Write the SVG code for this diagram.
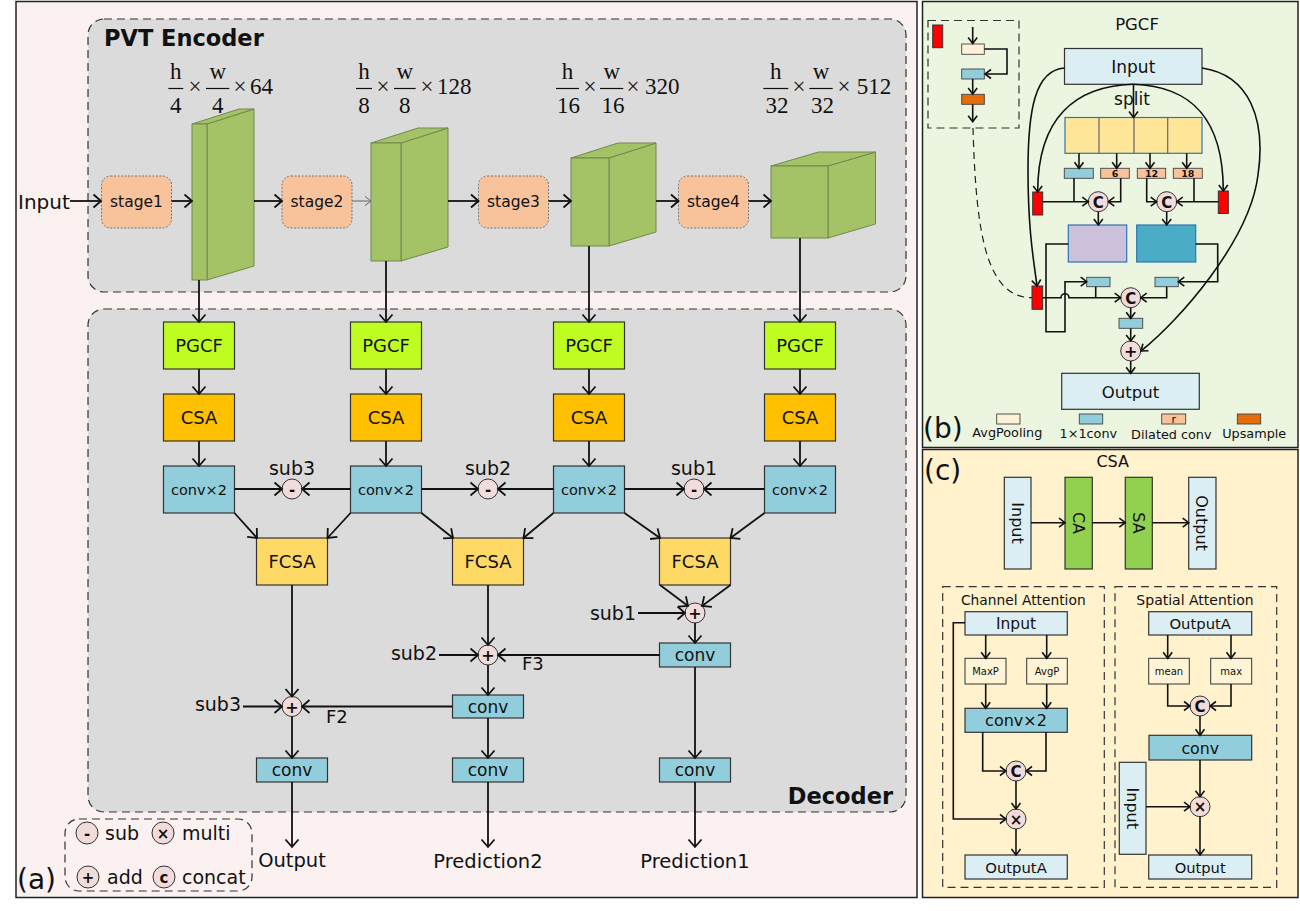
<svg xmlns="http://www.w3.org/2000/svg" width="1300" height="911" viewBox="0 0 1300 911">
<defs>
<marker id="ah" markerUnits="userSpaceOnUse" markerWidth="12" markerHeight="16" refX="9" refY="7" orient="auto" overflow="visible"><path d="M1.5,0.5 L9,7 L1.5,13.5" fill="none" stroke="#111" stroke-width="1.8"/></marker>
<marker id="ahs" markerUnits="userSpaceOnUse" markerWidth="10" markerHeight="12" refX="7" refY="5.5" orient="auto" overflow="visible"><path d="M1,1 L7,5.5 L1,10" fill="none" stroke="#111" stroke-width="1.6"/></marker>
<marker id="ahg" markerUnits="userSpaceOnUse" markerWidth="10" markerHeight="12" refX="7" refY="5.5" orient="auto" overflow="visible"><path d="M1,1 L7,5.5 L1,10" fill="none" stroke="#666" stroke-width="1"/></marker>
<style>
text{font-family:"DejaVu Sans","Liberation Sans",sans-serif;fill:#111}
.m{text-anchor:middle}
.e{text-anchor:end}
.b{font-weight:bold}
.mth{font-family:"Liberation Serif","DejaVu Serif",serif;font-size:23px}
.ln{fill:none;stroke:#111;stroke-width:1.8}
.ls{fill:none;stroke:#111;stroke-width:1.6}
.a{marker-end:url(#ah)}
.as{marker-end:url(#ahs)}
.bar{stroke:#111;stroke-width:1.2}
.blk{fill:#a4c266;stroke:#71894c;stroke-width:1}
.stg{fill:#f8c39b;stroke:#777;stroke-width:1;stroke-dasharray:2,1.5}
.pg{fill:#bffd22;stroke:#333;stroke-width:1.2}
.csa{fill:#ffc000;stroke:#333;stroke-width:1.2}
.cv{fill:#92cddc;stroke:#333;stroke-width:1.2}
.fc{fill:#ffd966;stroke:#333;stroke-width:1.2}
.op{fill:#f2dcdb;stroke:#333;stroke-width:1}
.dash{fill:none;stroke:#333;stroke-width:1.2;stroke-dasharray:8,5}
.dbox{fill:#dbdbdb;stroke:#333;stroke-width:1.2;stroke-dasharray:8,5}
.lb{fill:#dbeef3;stroke:#333;stroke-width:1.2}
.sm{stroke:#444;stroke-width:0.9}
.red{fill:#ff0000;stroke:#333;stroke-width:1}
.ap{fill:#fdf2d8}
.c1{fill:#92cddc}
.dil{fill:#f8c39b}
.up{fill:#e46c0a}
.gr{fill:#92d050;stroke:#333;stroke-width:1.2}
.pl{fill:#fff5d6;stroke:#333;stroke-width:1}
</style>
</defs>
<rect width="1300" height="911" fill="#ffffff"/>

<!-- Panel (a) -->
<g id="panel-a">
<rect x="16" y="1.5" width="901" height="896" fill="#fbf1f1" stroke="#222" stroke-width="1.5"/>
<rect class="dbox" x="88" y="19" width="818" height="273" rx="16"/>
<rect class="dbox" x="88" y="309" width="818" height="503" rx="16"/>
<text x="104" y="46" class="b" font-size="22.5">PVT Encoder</text>
<text x="893" y="804" class="b e" font-size="22.5">Decoder</text>
<text x="17" y="889" font-size="28">(a)</text>
<text x="18" y="209" font-size="20">Input</text>
</g>

<g id="stage1"><rect class="stg" x="101.5" y="176" width="70" height="52" rx="9"/><text x="136.5" y="206.5" class="m" font-size="15.5">stage1</text></g>
<g id="stage2"><rect class="stg" x="282" y="176" width="70" height="52" rx="9"/><text x="317" y="206.5" class="m" font-size="15.5">stage2</text></g>
<g id="stage3"><rect class="stg" x="478.5" y="176" width="70" height="52" rx="9"/><text x="513.5" y="206.5" class="m" font-size="15.5">stage3</text></g>
<g id="stage4"><rect class="stg" x="678.5" y="176" width="70" height="52" rx="9"/><text x="713.5" y="206.5" class="m" font-size="15.5">stage4</text></g>

<g id="feat1">
<polygon class="blk" points="207,124 254,109 254,266 207,280"/>
<polygon class="blk" points="192,124 239,109 254,109 207,124"/>
<rect class="blk" x="192" y="124" width="15" height="156"/>
</g>
<g id="feat2">
<polygon class="blk" points="401,143 448,128 448,247 401,261"/>
<polygon class="blk" points="371,143 418,128 448,128 401,143"/>
<rect class="blk" x="371" y="143" width="30" height="118"/>
</g>
<g id="feat3">
<polygon class="blk" points="609,158 656,143 656,232 609,246"/>
<polygon class="blk" points="571,158 618,143 656,143 609,158"/>
<rect class="blk" x="571" y="158" width="38" height="88"/>
</g>
<g id="feat4">
<polygon class="blk" points="828,166 875.5,152 875.5,224 828,238"/>
<polygon class="blk" points="771,166 818.5,152 875.5,152 828,166"/>
<rect class="blk" x="771" y="166" width="57" height="72"/>
</g>

<g id="dims">
<g id="dim1">
<text x="175.8" y="79" class="mth m">h</text><line class="bar" x1="168.3" y1="88.5" x2="183.3" y2="88.5"/><text x="175.8" y="112.5" class="mth m">4</text>
<text x="195" y="94" class="mth m">×</text>
<text x="217.7" y="79" class="mth m">w</text><line class="bar" x1="206" y1="88.5" x2="229.3" y2="88.5"/><text x="217.7" y="112.5" class="mth m">4</text>
<text x="240" y="94" class="mth m">×</text><text x="250" y="94" class="mth">64</text>
</g>
<g id="dim2">
<text x="364" y="79" class="mth m">h</text><line class="bar" x1="356" y1="88.5" x2="372" y2="88.5"/><text x="364" y="112.5" class="mth m">8</text>
<text x="383" y="94" class="mth m">×</text>
<text x="404.8" y="79" class="mth m">w</text><line class="bar" x1="394" y1="88.5" x2="415.7" y2="88.5"/><text x="404.8" y="112.5" class="mth m">8</text>
<text x="427" y="94" class="mth m">×</text><text x="437" y="94" class="mth">128</text>
</g>
<g id="dim3">
<text x="567.5" y="79" class="mth m">h</text><line class="bar" x1="556" y1="88.5" x2="579" y2="88.5"/><text x="568.5" y="112.5" class="mth m">16</text>
<text x="590" y="94" class="mth m">×</text>
<text x="611.7" y="79" class="mth m">w</text><line class="bar" x1="600" y1="88.5" x2="623.3" y2="88.5"/><text x="613" y="112.5" class="mth m">16</text>
<text x="633" y="94" class="mth m">×</text><text x="645" y="94" class="mth">320</text>
</g>
<g id="dim4">
<text x="775.8" y="79" class="mth m">h</text><line class="bar" x1="763.3" y1="88.5" x2="788.3" y2="88.5"/><text x="777" y="112.5" class="mth m">32</text>
<text x="799" y="94" class="mth m">×</text>
<text x="821" y="79" class="mth m">w</text><line class="bar" x1="809.3" y1="88.5" x2="832.7" y2="88.5"/><text x="822.5" y="112.5" class="mth m">32</text>
<text x="844" y="94" class="mth m">×</text><text x="856.7" y="94" class="mth">512</text>
</g>
</g>

<!-- Decoder nodes -->
<g id="pgcf1"><rect class="pg" x="163.5" y="322" width="71" height="47"/><text x="199" y="352" class="m" font-size="18">PGCF</text></g>
<g id="pgcf2"><rect class="pg" x="350.5" y="322" width="71" height="47"/><text x="386" y="352" class="m" font-size="18">PGCF</text></g>
<g id="pgcf3"><rect class="pg" x="553.5" y="322" width="71" height="47"/><text x="589" y="352" class="m" font-size="18">PGCF</text></g>
<g id="pgcf4"><rect class="pg" x="764.5" y="322" width="71" height="47"/><text x="800" y="352" class="m" font-size="18">PGCF</text></g>

<g id="csa1"><rect class="csa" x="163.5" y="394" width="71" height="47"/><text x="199" y="424" class="m" font-size="18">CSA</text></g>
<g id="csa2"><rect class="csa" x="350.5" y="394" width="71" height="47"/><text x="386" y="424" class="m" font-size="18">CSA</text></g>
<g id="csa3"><rect class="csa" x="553.5" y="394" width="71" height="47"/><text x="589" y="424" class="m" font-size="18">CSA</text></g>
<g id="csa4"><rect class="csa" x="764.5" y="394" width="71" height="47"/><text x="800" y="424" class="m" font-size="18">CSA</text></g>

<g id="convx2-1"><rect class="cv" x="163.5" y="466" width="71" height="47"/><text x="199" y="495" class="m" font-size="14.5">conv×2</text></g>
<g id="convx2-2"><rect class="cv" x="350.5" y="466" width="71" height="47"/><text x="386" y="495" class="m" font-size="14.5">conv×2</text></g>
<g id="convx2-3"><rect class="cv" x="553.5" y="466" width="71" height="47"/><text x="589" y="495" class="m" font-size="14.5">conv×2</text></g>
<g id="convx2-4"><rect class="cv" x="764.5" y="466" width="71" height="47"/><text x="800" y="495" class="m" font-size="14.5">conv×2</text></g>

<g id="sub3"><text x="292" y="475" class="m" font-size="19">sub3</text><circle class="op" cx="292" cy="489" r="10"/><text x="292" y="494.5" class="m b" font-size="15">-</text></g>
<g id="sub2"><text x="488" y="475" class="m" font-size="19">sub2</text><circle class="op" cx="488" cy="489" r="10"/><text x="488" y="494.5" class="m b" font-size="15">-</text></g>
<g id="sub1"><text x="694" y="475" class="m" font-size="19">sub1</text><circle class="op" cx="694" cy="489" r="10"/><text x="694" y="494.5" class="m b" font-size="15">-</text></g>

<g id="fcsa1"><rect class="fc" x="256.5" y="538" width="71" height="47"/><text x="292" y="568" class="m" font-size="18">FCSA</text></g>
<g id="fcsa2"><rect class="fc" x="452.5" y="538" width="71" height="47"/><text x="488" y="568" class="m" font-size="18">FCSA</text></g>
<g id="fcsa3"><rect class="fc" x="659.5" y="538" width="71" height="47"/><text x="695" y="568" class="m" font-size="18">FCSA</text></g>

<g id="add1"><circle class="op" cx="695" cy="613" r="10"/><text x="695" y="619" class="m b" font-size="16">+</text><text x="636" y="620" class="e" font-size="19">sub1</text></g>
<g id="add2"><circle class="op" cx="488" cy="655" r="10"/><text x="488" y="661" class="m b" font-size="16">+</text><text x="437" y="660" class="e" font-size="19">sub2</text></g>
<g id="add3"><circle class="op" cx="292" cy="706.5" r="10"/><text x="292" y="712.5" class="m b" font-size="16">+</text><text x="241" y="711" class="e" font-size="19">sub3</text></g>

<g id="conv-f3"><rect class="cv" x="659.5" y="643" width="71" height="24"/><text x="695" y="661" class="m" font-size="17">conv</text></g>
<g id="conv-f2"><rect class="cv" x="452.5" y="695" width="71" height="23"/><text x="488" y="712.5" class="m" font-size="17">conv</text></g>
<g id="conv-o1"><rect class="cv" x="256.5" y="758" width="71" height="24"/><text x="292" y="776" class="m" font-size="17">conv</text></g>
<g id="conv-o2"><rect class="cv" x="452.5" y="758" width="71" height="24"/><text x="488" y="776" class="m" font-size="17">conv</text></g>
<g id="conv-o3"><rect class="cv" x="659.5" y="758" width="71" height="24"/><text x="695" y="776" class="m" font-size="17">conv</text></g>

<g id="labels-a">
<text x="522" y="670" font-size="18">F3</text>
<text x="326" y="722.5" font-size="18">F2</text>
<text x="292" y="867" class="m" font-size="19.5">Output</text>
<text x="488" y="868" class="m" font-size="19.5">Prediction2</text>
<text x="695" y="868" class="m" font-size="19.5">Prediction1</text>
</g>

<g id="legend-a">
<rect class="dash" x="65" y="819" width="187" height="72" rx="14"/>
<circle class="op" cx="87" cy="833" r="11"/><text x="87" y="838.5" class="m b" font-size="15">-</text><text x="105" y="840" font-size="19">sub</text>
<circle class="op" cx="163" cy="833" r="11"/><text x="163" y="838.5" class="m b" font-size="15">×</text><text x="182" y="840" font-size="19">multi</text>
<circle class="op" cx="88" cy="877" r="11"/><text x="88" y="882.5" class="m b" font-size="15">+</text><text x="107" y="884" font-size="19">add</text>
<circle class="op" cx="164" cy="877" r="11"/><text x="164" y="882.5" class="m b" font-size="15">c</text><text x="182" y="884" font-size="19">concat</text>
</g>

<!-- Panel (b) PGCF -->
<g id="panel-b">
<rect x="922.5" y="1.5" width="375.5" height="446" fill="#ebf5df" stroke="#222" stroke-width="1.5"/>
<text x="1137" y="30" class="m" font-size="16.5">PGCF</text>
<text x="923" y="438" font-size="28">(b)</text>
</g>
<g id="pgcf-inset">
<rect class="dash" x="928" y="20.5" width="91" height="107.5"/>
<rect class="red" x="932.7" y="25" width="10" height="22.7"/>
<rect class="ap sm" x="961.7" y="44" width="22.6" height="10.3"/>
<rect class="c1 sm" x="961.7" y="69" width="22.6" height="10"/>
<rect class="up sm" x="961.7" y="94.3" width="22.6" height="10"/>
</g>
<g id="pgcf-input"><rect class="lb" x="1064.5" y="48.5" width="137.5" height="35.8"/><text x="1133.3" y="72.5" class="m" font-size="17">Input</text></g>
<g id="pgcf-split">
<text x="1132" y="105" class="m" font-size="17">split</text>
<rect x="1065" y="117.5" width="137" height="35.8" fill="#ffe699" stroke="#2e75b6" stroke-width="1.2"/>
<line x1="1099" y1="117.5" x2="1099" y2="153.3" stroke="#666" stroke-width="1.2"/>
<line x1="1134" y1="117.5" x2="1134" y2="153.3" stroke="#666" stroke-width="1.2"/>
<line x1="1167.7" y1="117.5" x2="1167.7" y2="153.3" stroke="#666" stroke-width="1.2"/>
</g>
<g id="pgcf-branches">
<rect class="c1 sm" x="1064.3" y="168.3" width="29" height="10"/>
<rect class="dil sm" x="1100.7" y="168.3" width="28.6" height="10"/><text x="1115" y="177" class="m b" font-size="9.5">6</text>
<rect class="dil sm" x="1137.3" y="168.3" width="28.4" height="10"/><text x="1151.5" y="177" class="m b" font-size="9.5">12</text>
<rect class="dil sm" x="1173.3" y="168.3" width="29" height="10"/><text x="1187.8" y="177" class="m b" font-size="9.5">18</text>
<rect class="red" x="1032.7" y="192" width="10" height="23"/>
<rect class="red" x="1218.3" y="191" width="10" height="22.5"/>
</g>
<g id="pgcf-cat1"><circle class="op" cx="1098.3" cy="201.7" r="10"/><text x="1098.3" y="207.5" class="m b" font-size="15">C</text></g>
<g id="pgcf-cat2"><circle class="op" cx="1166.7" cy="201.7" r="10"/><text x="1166.7" y="207.5" class="m b" font-size="15">C</text></g>
<g id="pgcf-purple"><rect x="1068.3" y="225" width="58.4" height="37" fill="#ccc0da" stroke="#2e75b6" stroke-width="1.2"/></g>
<g id="pgcf-teal"><rect x="1136.7" y="225" width="59" height="37" fill="#4bacc6" stroke="#2e75b6" stroke-width="1.2"/></g>
<g id="pgcf-gp"><rect class="red" x="1032" y="286" width="10.7" height="23.3"/></g>
<g id="pgcf-conv-a"><rect class="c1 sm" x="1086.7" y="277.3" width="23.3" height="9.4"/></g>
<g id="pgcf-conv-b"><rect class="c1 sm" x="1155" y="277.3" width="23.3" height="9.4"/></g>
<g id="pgcf-cat3"><circle class="op" cx="1130.7" cy="297.7" r="10"/><text x="1130.7" y="303.5" class="m b" font-size="15">C</text></g>
<g id="pgcf-conv-c"><rect class="c1 sm" x="1119" y="318.3" width="23.7" height="10"/></g>
<g id="pgcf-add"><circle class="op" cx="1130.7" cy="351" r="10"/><text x="1130.7" y="357" class="m b" font-size="16">+</text></g>
<g id="pgcf-output"><rect class="lb" x="1061.7" y="373.3" width="137.6" height="36"/><text x="1130.5" y="397.5" class="m" font-size="16.5">Output</text></g>
<g id="pgcf-legend">
<rect class="ap sm" x="996.7" y="414" width="23.3" height="10"/><text x="1007.3" y="437" class="m" font-size="12.8">AvgPooling</text>
<rect class="c1 sm" x="1079.3" y="414" width="23.4" height="10"/><text x="1088.3" y="438" class="m" font-size="12.8">1×1conv</text>
<rect class="dil sm" x="1161.7" y="414" width="24" height="10"/><text x="1173.7" y="423" class="m" font-family="Liberation Mono, monospace" font-size="11">r</text><text x="1171.3" y="439" class="m" font-size="12.8">Dilated conv</text>
<rect class="up sm" x="1237.3" y="414" width="23.4" height="10"/><text x="1254.2" y="438" class="m" font-size="12.8">Upsample</text>
</g>

<!-- Panel (c) CSA -->
<g id="panel-c">
<rect x="922.5" y="449.5" width="375.5" height="448" fill="#fff2cc" stroke="#222" stroke-width="1.5"/>
<text x="1112.7" y="467" class="m" font-size="16">CSA</text>
<text x="924" y="480" font-size="28">(c)</text>
</g>
<g id="csa-input"><rect class="lb" x="1004.3" y="477.3" width="26.7" height="91.7"/><text transform="translate(1017.7,523) rotate(90)" x="0" y="5.8" class="m" font-size="16">Input</text></g>
<g id="csa-ca"><rect class="gr" x="1065" y="477.3" width="27.3" height="91.7"/><text transform="translate(1078.7,523) rotate(90)" x="0" y="5.8" class="m" font-size="16">CA</text></g>
<g id="csa-sa"><rect class="gr" x="1125.3" y="477.3" width="27" height="91.7"/><text transform="translate(1138.8,523) rotate(90)" x="0" y="5.8" class="m" font-size="16">SA</text></g>
<g id="csa-output"><rect class="lb" x="1188.7" y="477.3" width="27.3" height="91.7"/><text transform="translate(1202.3,523) rotate(90)" x="0" y="5.8" class="m" font-size="16">Output</text></g>

<g id="channel-attention">
<rect class="dash" x="942.7" y="586.7" width="161.6" height="300.6"/>
<text x="1023.3" y="605" class="m" font-size="13.8">Channel Attention</text>
</g>
<g id="ca-input"><rect class="lb" x="965" y="611.7" width="102.3" height="23.3"/><text x="1016" y="629" class="m" font-size="15.5">Input</text></g>
<g id="ca-maxp"><rect class="pl" x="965" y="658.3" width="41" height="25.7"/><text x="985.5" y="674.5" class="m" font-size="10">MaxP</text></g>
<g id="ca-avgp"><rect class="pl" x="1026.7" y="658.3" width="40.6" height="25.7"/><text x="1047" y="674.5" class="m" font-size="10">AvgP</text></g>
<g id="ca-conv"><rect class="cv" x="965" y="708.3" width="102.3" height="24"/><text x="1016" y="726.2" class="m" font-size="16">conv×2</text></g>
<g id="ca-cat"><circle class="op" cx="1016" cy="771" r="10"/><text x="1016" y="776.8" class="m b" font-size="15">C</text></g>
<g id="ca-mul"><circle class="op" cx="1016" cy="819" r="10"/><text x="1016" y="824.5" class="m b" font-size="15">×</text></g>
<g id="ca-output"><rect class="lb" x="965" y="855" width="102.3" height="24"/><text x="1016" y="872.5" class="m" font-size="14.8">OutputA</text></g>

<g id="spatial-attention">
<rect class="dash" x="1115" y="586.7" width="161.7" height="300.6"/>
<text x="1195" y="605" class="m" font-size="14">Spatial Attention</text>
</g>
<g id="sa-input"><rect class="lb" x="1148.7" y="611.7" width="103" height="23.3"/><text x="1200.2" y="628.5" class="m" font-size="14.8">OutputA</text></g>
<g id="sa-mean"><rect class="pl" x="1148.7" y="658.3" width="40.6" height="25.7"/><text x="1169" y="674.5" class="m" font-size="10">mean</text></g>
<g id="sa-max"><rect class="pl" x="1210.7" y="658.3" width="41" height="25.7"/><text x="1231.2" y="674.5" class="m" font-size="10">max</text></g>
<g id="sa-cat"><circle class="op" cx="1200" cy="706" r="10"/><text x="1200" y="711.8" class="m b" font-size="15">C</text></g>
<g id="sa-conv"><rect class="cv" x="1149" y="735.3" width="102.7" height="24.7"/><text x="1200.3" y="753.5" class="m" font-size="15.8">conv</text></g>
<g id="sa-x"><rect class="lb" x="1119.3" y="762.3" width="26.7" height="92"/><text transform="translate(1132.7,808.3) rotate(90)" x="0" y="5.8" class="m" font-size="16">Input</text></g>
<g id="sa-mul"><circle class="op" cx="1200" cy="806.7" r="10"/><text x="1200" y="812.2" class="m b" font-size="15">×</text></g>
<g id="sa-output"><rect class="lb" x="1148.7" y="855" width="103" height="24"/><text x="1200.2" y="872.5" class="m" font-size="14.7">Output</text></g>

<!-- Connectors -->
<g id="connectors">
<!-- encoder -->
<path class="ln a" d="M70,201 H101"/>
<path class="ln a" d="M171.5,201 H192"/>
<path class="ln a" d="M254,201 H282"/>
<path d="M352,201 H371" fill="none" stroke="#666" stroke-width="1" marker-end="url(#ahg)"/>
<path class="ln a" d="M448,201 H478.5"/>
<path class="ln a" d="M548.5,201 H571"/>
<path class="ln a" d="M656,201 H678.5"/>
<path class="ln a" d="M748.5,201 H771"/>
<path class="ln a" d="M199,280 V322"/>
<path class="ln a" d="M386,261 V322"/>
<path class="ln a" d="M589,246 V322"/>
<path class="ln a" d="M800,238 V322"/>
<!-- decoder columns -->
<path class="ln a" d="M199,369 V394"/>
<path class="ln a" d="M386,369 V394"/>
<path class="ln a" d="M589,369 V394"/>
<path class="ln a" d="M800,369 V394"/>
<path class="ln a" d="M199,441 V466"/>
<path class="ln a" d="M386,441 V466"/>
<path class="ln a" d="M589,441 V466"/>
<path class="ln a" d="M800,441 V466"/>
<!-- subtraction -->
<path class="ln a" d="M234.5,489 H282"/>
<path class="ln a" d="M350.5,489 H302"/>
<path class="ln a" d="M421.5,489 H478"/>
<path class="ln a" d="M553.5,489 H498"/>
<path class="ln a" d="M624.5,489 H684"/>
<path class="ln a" d="M764.5,489 H704"/>
<!-- diagonals -->
<path class="ln a" d="M234.5,513 L257,538"/>
<path class="ln a" d="M350.5,513 L327.5,538"/>
<path class="ln a" d="M421.5,513 L453,538"/>
<path class="ln a" d="M553.5,513 L523.5,538"/>
<path class="ln a" d="M624.5,513 L660,538"/>
<path class="ln a" d="M764.5,513 L730.5,538"/>
<!-- lower decoder -->
<path class="ln a" d="M292,585 V696.5"/>
<path class="ln a" d="M488,585 V645"/>
<path class="ln a" d="M660,585 L688,606"/>
<path class="ln a" d="M730.5,585 L702,606"/>
<path class="ln a" d="M638,613 H685"/>
<path class="ln a" d="M695,623 V643"/>
<path class="ln a" d="M659.5,655 H498"/>
<path class="ln a" d="M439,655 H478"/>
<path class="ln a" d="M488,665 V695"/>
<path class="ln a" d="M452.5,706.5 H302"/>
<path class="ln a" d="M243,706.5 H282"/>
<path class="ln a" d="M292,716.5 V758"/>
<path class="ln a" d="M488,718 V758"/>
<path class="ln a" d="M695,667 V758"/>
<path class="ln a" d="M292,782 V847"/>
<path class="ln a" d="M488,782 V847"/>
<path class="ln a" d="M695,782 V847"/>

<!-- PGCF inset -->
<path class="ls as" d="M972.7,27 V43.5"/>
<path class="ls as" d="M984.3,49 H1007 V74 H985"/>
<path class="ls as" d="M972.7,79 V94"/>
<path class="ls as" d="M972.7,104.3 V121.7"/>
<path d="M973,128 C976,230 985,297.7 1032,297.7" fill="none" stroke="#222" stroke-width="1.2" stroke-dasharray="7,5"/>
<!-- PGCF main -->
<path class="ls as" d="M1133.5,84.3 V117.5"/>
<path class="ls as" d="M1064.5,68 C1035,70 1028,110 1028,170 C1028,232 1034,262 1037,286"/>
<path class="ls as" d="M1133,84.3 C1075,86 1037.7,118 1037.7,192"/>
<path class="ls as" d="M1133,84.3 C1191,86 1223.3,118 1223.3,191"/>
<path class="ls as" d="M1202,68 C1250,75 1266,120 1258,175 C1250,240 1180,320 1141,351"/>
<path class="ls as" d="M1079,153.3 V168.3"/>
<path class="ls as" d="M1116.7,153.3 V168.3"/>
<path class="ls as" d="M1150,153.3 V168.3"/>
<path class="ls as" d="M1186.7,153.3 V168.3"/>
<path class="ls" d="M1074,178.3 V201.7"/>
<path class="ls as" d="M1042.7,201.7 H1088.3"/>
<path class="ls as" d="M1120.7,178.3 V201.7 H1108.3"/>
<path class="ls as" d="M1146.7,178.3 V201.7 H1156.7"/>
<path class="ls" d="M1194,178.3 V201.7"/>
<path class="ls as" d="M1218.3,201.7 H1176.7"/>
<path class="ls as" d="M1098.3,211.7 V225"/>
<path class="ls as" d="M1166.7,211.7 V225"/>
<path class="ls as" d="M1068.3,244 H1046 V331.7 H1065 V281.7 H1086.7"/>
<path class="ls as" d="M1042.7,297.7 H1061 A4,4 0 0 1 1069,297.7 H1120.7"/>
<path class="ls" d="M1095.7,286.7 V297.7"/>
<path class="ls as" d="M1195.7,244 H1217.7 V281.7 H1178.3"/>
<path class="ls as" d="M1166.7,286.7 V297.7 H1140.7"/>
<path class="ls as" d="M1130.7,307.7 V318.3"/>
<path class="ls as" d="M1130.7,328.3 V341"/>
<path class="ls as" d="M1130.7,361 V373.3"/>

<!-- CSA top -->
<path class="ls as" d="M1031,522.7 H1065"/>
<path class="ls as" d="M1092.3,522.7 H1125.3"/>
<path class="ls as" d="M1152.3,522.7 H1188.7"/>
<!-- channel attention -->
<path class="ls as" d="M985.7,635 V658.3"/>
<path class="ls as" d="M1046.7,635 V658.3"/>
<path class="ls as" d="M985.7,684 V708.3"/>
<path class="ls as" d="M1046.7,684 V708.3"/>
<path class="ls as" d="M982.7,732.3 V771 H1006"/>
<path class="ls as" d="M1046,732.3 V771 H1026"/>
<path class="ls as" d="M1016,781 V809"/>
<path class="ls as" d="M965,622.7 H953.3 V819 H1006"/>
<path class="ls as" d="M1016,829 V855"/>
<!-- spatial attention -->
<path class="ls as" d="M1167.7,635 V658.3"/>
<path class="ls as" d="M1231,635 V658.3"/>
<path class="ls as" d="M1167.7,684 V706 H1190"/>
<path class="ls as" d="M1231,684 V706 H1210"/>
<path class="ls as" d="M1200,716 V735.3"/>
<path class="ls as" d="M1200,760 V796.7"/>
<path class="ls as" d="M1146,806.7 H1190"/>
<path class="ls as" d="M1200,816.7 V855"/>
</g>
</svg>
